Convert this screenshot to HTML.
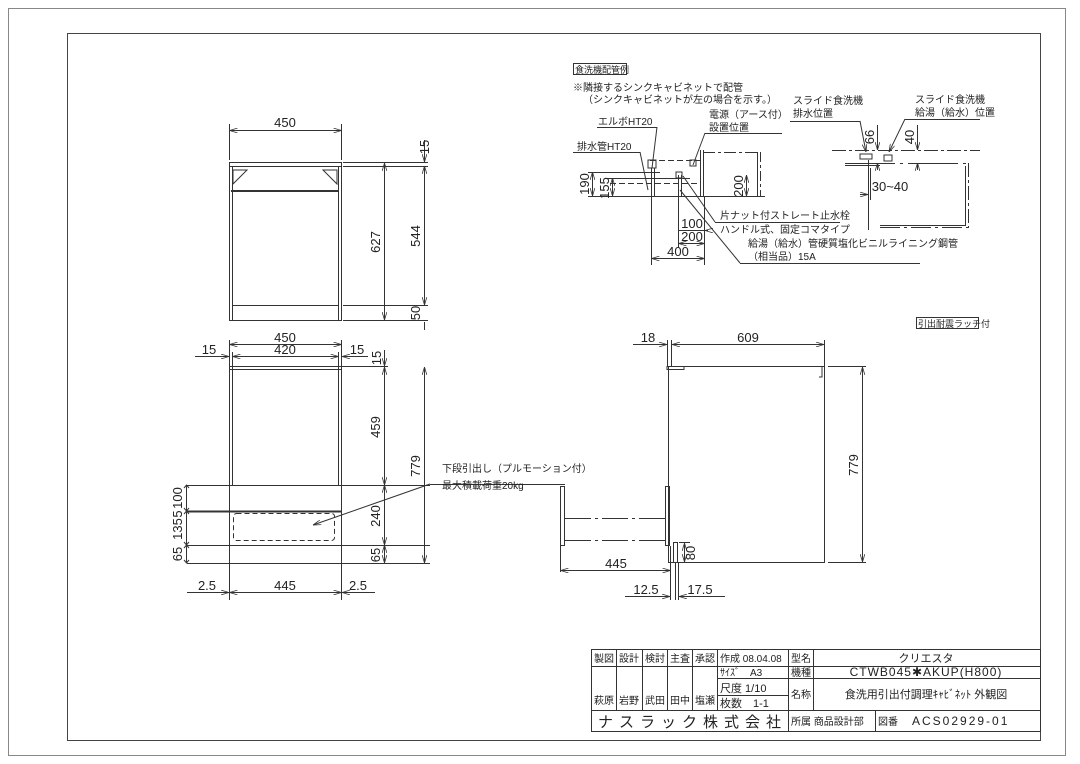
<!DOCTYPE html>
<html><head><meta charset="utf-8"><style>
html,body{margin:0;padding:0;background:#fff}
svg{display:block}
text{font-family:"Liberation Sans","Noto Sans CJK JP",sans-serif;fill:#222}
.d{font-size:13px}
.s{font-size:10px}
</style></head><body>
<svg width="1080" height="764" viewBox="0 0 1080 764" xmlns="http://www.w3.org/2000/svg">
<defs>
<marker id="a" viewBox="0 0 10 6" refX="10" refY="3" markerWidth="8" markerHeight="5" orient="auto-start-reverse" markerUnits="userSpaceOnUse"><path d="M0,0L10,3L0,6" fill="none" stroke="#333" stroke-width="1"/></marker>
</defs>
<g fill="none" stroke="#333" stroke-width="1">
<rect x="8.5" y="8.5" width="1057" height="747" stroke="#888"/>
<rect x="67.5" y="33.5" width="973" height="707" stroke="#444"/>

<!-- TOP VIEW -->
<rect x="229.5" y="162.5" width="112" height="158"/>
<line x1="229" y1="166.5" x2="341" y2="166.5"/>
<line x1="232.5" y1="166" x2="232.5" y2="320"/>
<line x1="338.5" y1="166" x2="338.5" y2="320"/>
<line x1="231" y1="191" x2="339" y2="191" stroke-width="2"/>
<line x1="232" y1="305.5" x2="338" y2="305.5"/>
<path d="M233,170 L247,170 L233,184 Z M337,170 L323,170 L337,184 Z"/>
<line x1="229.5" y1="160" x2="229.5" y2="124"/><line x1="341.5" y1="160" x2="341.5" y2="124"/>
<line x1="229.5" y1="130.5" x2="341.5" y2="130.5" marker-start="url(#a)" marker-end="url(#a)"/>
<line x1="343" y1="162.5" x2="428" y2="162.5"/><line x1="343" y1="166.5" x2="428" y2="166.5"/>
<line x1="343" y1="305.5" x2="428" y2="305.5"/><line x1="343" y1="320.5" x2="428" y2="320.5"/>
<line x1="384.5" y1="163" x2="384.5" y2="320" marker-start="url(#a)" marker-end="url(#a)"/>
<line x1="424.5" y1="166" x2="424.5" y2="305" marker-start="url(#a)" marker-end="url(#a)"/>
<line x1="424.5" y1="140" x2="424.5" y2="162" marker-end="url(#a)"/>
<line x1="424.5" y1="322" x2="424.5" y2="330"/>

<!-- FRONT VIEW -->
<line x1="229.5" y1="340" x2="229.5" y2="600"/><line x1="341.5" y1="340" x2="341.5" y2="600"/>
<line x1="232.5" y1="352" x2="232.5" y2="485"/><line x1="338.5" y1="352" x2="338.5" y2="485"/>
<line x1="229.5" y1="344.5" x2="341.5" y2="344.5" marker-start="url(#a)" marker-end="url(#a)"/>
<line x1="232.5" y1="356.5" x2="338.5" y2="356.5" marker-start="url(#a)" marker-end="url(#a)"/>
<line x1="195" y1="356.5" x2="229" y2="356.5" marker-end="url(#a)"/>
<line x1="342" y1="356.5" x2="368" y2="356.5" marker-start="url(#a)"/>
<line x1="229" y1="366.5" x2="388" y2="366.5"/>
<line x1="229" y1="369.5" x2="341" y2="369.5"/>
<line x1="187" y1="485.5" x2="430" y2="485.5"/>
<line x1="187" y1="511.5" x2="341" y2="511.5" stroke-width="2"/>
<line x1="187" y1="545.5" x2="430" y2="545.5"/>
<line x1="187" y1="563.5" x2="430" y2="563.5"/>
<rect x="233.5" y="513.5" width="101" height="27" rx="3" stroke-dasharray="5,3"/>
<line x1="384.5" y1="367" x2="384.5" y2="485" marker-start="url(#a)" marker-end="url(#a)"/>
<line x1="384.5" y1="485" x2="384.5" y2="545" marker-start="url(#a)" marker-end="url(#a)"/>
<line x1="384.5" y1="545" x2="384.5" y2="563" marker-start="url(#a)" marker-end="url(#a)"/>
<line x1="424.5" y1="367" x2="424.5" y2="563" marker-start="url(#a)" marker-end="url(#a)"/>
<line x1="384.5" y1="350" x2="384.5" y2="366" marker-end="url(#a)"/>
<line x1="186.5" y1="485" x2="186.5" y2="563" />
<path d="M184,488 L186.5,485 L189,488 M184,508 L186.5,511 L189,508 M184,514 L186.5,511 L189,514 M184,542 L186.5,545 L189,542 M184,548 L186.5,545 L189,548 M184,560 L186.5,563 L189,560"/>
<line x1="187" y1="592.5" x2="229" y2="592.5" marker-end="url(#a)"/>
<line x1="229.5" y1="592.5" x2="341.5" y2="592.5" marker-start="url(#a)" marker-end="url(#a)"/>
<line x1="342" y1="592.5" x2="375" y2="592.5" marker-start="url(#a)"/>
<line x1="313" y1="525" x2="430" y2="484" marker-start="url(#a)"/>
<line x1="430" y1="484.5" x2="565" y2="484.5"/>

<!-- SIDE VIEW -->
<rect x="668.5" y="366.5" width="156" height="196"/>
<line x1="671.5" y1="340" x2="671.5" y2="366"/><line x1="667.5" y1="340" x2="667.5" y2="366"/>
<line x1="824.5" y1="340" x2="824.5" y2="366"/>
<line x1="672" y1="344.5" x2="824" y2="344.5" marker-start="url(#a)" marker-end="url(#a)"/>
<line x1="633" y1="344.5" x2="667" y2="344.5" marker-end="url(#a)"/>
<path d="M667,366.5 h17 v3 h-17 z M822,367 v10 h-3"/>
<line x1="828" y1="366.5" x2="866" y2="366.5"/><line x1="828" y1="562.5" x2="866" y2="562.5"/>
<line x1="862.5" y1="367" x2="862.5" y2="562" marker-start="url(#a)" marker-end="url(#a)"/>
<rect x="665.5" y="486.5" width="4" height="59"/>
<rect x="560.5" y="486.5" width="4" height="59"/>
<line x1="565" y1="518.5" x2="665" y2="518.5" stroke-dasharray="26,4,3,4"/>
<line x1="565" y1="540.5" x2="665" y2="540.5" stroke-dasharray="26,4,3,4"/>
<rect x="673.5" y="542.5" width="4" height="20"/>
<line x1="679" y1="542.5" x2="690" y2="542.5"/>
<line x1="684.5" y1="543" x2="684.5" y2="562" marker-start="url(#a)" marker-end="url(#a)"/>
<line x1="560.5" y1="546" x2="560.5" y2="572"/><line x1="670.5" y1="546" x2="670.5" y2="600"/><line x1="675.5" y1="563" x2="675.5" y2="600"/><line x1="678.5" y1="563" x2="678.5" y2="600"/>
<line x1="560.5" y1="570.5" x2="670.5" y2="570.5" marker-start="url(#a)" marker-end="url(#a)"/>
<line x1="625" y1="596.5" x2="670" y2="596.5" marker-end="url(#a)"/>
<line x1="679" y1="596.5" x2="725" y2="596.5" marker-start="url(#a)"/>
<rect x="916.5" y="317.5" width="62" height="11"/>

<!-- PIPING DETAIL -->
<rect x="573.5" y="63.5" width="53" height="11"/>
<line x1="597" y1="127.5" x2="657" y2="127.5"/><line x1="657" y1="127" x2="652" y2="168"/>
<line x1="573" y1="152.5" x2="640" y2="152.5"/><line x1="640" y1="152" x2="648" y2="190"/>
<line x1="705" y1="133.5" x2="782" y2="133.5"/><line x1="705" y1="133" x2="693" y2="165"/>
<line x1="650" y1="160.5" x2="700" y2="160.5" stroke-dasharray="6,3"/>
<line x1="588" y1="172.5" x2="660" y2="172.5"/>
<line x1="605" y1="178.5" x2="690" y2="178.5"/>
<line x1="610" y1="183.5" x2="700" y2="183.5" stroke-dasharray="6,3"/>
<line x1="588" y1="196.5" x2="765" y2="196.5"/>
<line x1="700.5" y1="150" x2="700.5" y2="196"/><line x1="703.5" y1="150" x2="703.5" y2="196"/>
<line x1="703" y1="152.5" x2="758" y2="152.5" stroke-dasharray="12,3,3,3"/>
<line x1="757.5" y1="152" x2="757.5" y2="196"/><line x1="760.5" y1="152" x2="760.5" y2="196" stroke-dasharray="10,3,3,3"/>
<line x1="651.5" y1="168" x2="651.5" y2="265"/><line x1="654.5" y1="168" x2="654.5" y2="196"/>
<line x1="678.5" y1="175" x2="678.5" y2="248"/><line x1="681.5" y1="175" x2="681.5" y2="196"/>
<line x1="704.5" y1="196" x2="704.5" y2="265"/>
<path d="M648,160 h8 v8 h-8 z M676,172 h6 v6 h-6 z M690,160 h6 v6 h-6 z"/>
<line x1="592.5" y1="172" x2="592.5" y2="196" marker-start="url(#a)" marker-end="url(#a)"/>
<line x1="612.5" y1="178" x2="612.5" y2="196" marker-start="url(#a)" marker-end="url(#a)"/>
<line x1="746.5" y1="175" x2="746.5" y2="196" marker-start="url(#a)" marker-end="url(#a)"/>
<line x1="678.5" y1="230.5" x2="704.5" y2="230.5"/><line x1="705" y1="230.5" x2="708" y2="230.5" marker-start="url(#a)"/>
<line x1="678.5" y1="243.5" x2="704.5" y2="243.5" marker-start="url(#a)" marker-end="url(#a)"/>
<line x1="651.5" y1="258.5" x2="704.5" y2="258.5" marker-start="url(#a)" marker-end="url(#a)"/>
<line x1="715" y1="222.5" x2="840" y2="222.5"/><line x1="715" y1="222" x2="683" y2="176"/>
<line x1="740" y1="263.5" x2="920" y2="263.5"/><line x1="740" y1="263" x2="680" y2="190"/>
<line x1="790" y1="121.5" x2="860" y2="121.5"/><line x1="860" y1="121" x2="866" y2="152" marker-end="url(#a)"/>
<line x1="905" y1="119.5" x2="980" y2="119.5"/><line x1="905" y1="119" x2="889" y2="152" marker-end="url(#a)"/>
<line x1="832" y1="150.5" x2="980" y2="150.5" stroke-dasharray="14,3,3,3"/>
<line x1="845" y1="163.5" x2="968" y2="163.5" stroke-dasharray="50,5,3,5"/>
<line x1="845" y1="165.5" x2="880" y2="165.5"/>
<line x1="968.5" y1="163" x2="968.5" y2="228" stroke-dasharray="14,3,3,3"/>
<line x1="965.5" y1="166" x2="965.5" y2="226"/>
<line x1="880" y1="227.5" x2="968" y2="227.5" stroke-dasharray="20,4,3,4"/>
<line x1="880" y1="225.5" x2="965" y2="225.5"/>
<line x1="870.5" y1="168" x2="870.5" y2="200"/><line x1="868.5" y1="160" x2="868.5" y2="230"/>
<line x1="877.5" y1="125" x2="877.5" y2="150" marker-end="url(#a)"/>
<line x1="877.5" y1="163" x2="877.5" y2="170" marker-start="url(#a)"/>
<line x1="917.5" y1="125" x2="917.5" y2="150" marker-end="url(#a)"/>
<line x1="917.5" y1="163" x2="917.5" y2="170" marker-start="url(#a)"/>
<line x1="860" y1="194.5" x2="868" y2="194.5" marker-end="url(#a)"/>
<path d="M860,154 h12 v5 h-12 z M884,155 h8 v6 h-8 z"/>

<!-- TITLE BLOCK -->
<rect x="591.5" y="649.5" width="449" height="82"/>
<line x1="591" y1="666.5" x2="717" y2="666.5"/>
<line x1="591" y1="710.5" x2="1040" y2="710.5"/>
<line x1="717" y1="666.5" x2="1040" y2="666.5"/>
<line x1="717" y1="678.5" x2="1040" y2="678.5"/>
<line x1="717" y1="695.5" x2="788" y2="695.5"/>
<path d="M616.5,650v60 M642.5,650v60 M667.5,650v60 M692.5,650v60 M717.5,650v60 M788.5,650v81 M813.5,650v60 M875.5,710v21"/>
</g>

<g class="d" text-anchor="middle">
<text x="285" y="127">450</text>
<text transform="translate(429,147) rotate(-90)" text-anchor="middle">15</text>
<text transform="translate(380,242) rotate(-90)">627</text>
<text transform="translate(420,236) rotate(-90)">544</text>
<text transform="translate(420,313) rotate(-90)">50</text>
<text x="285" y="342">450</text>
<text x="285" y="354">420</text>
<text x="209" y="354">15</text>
<text x="357" y="354">15</text>
<text transform="translate(381,358) rotate(-90)">15</text>
<text transform="translate(380,427) rotate(-90)">459</text>
<text transform="translate(380,516) rotate(-90)">240</text>
<text transform="translate(380,555) rotate(-90)">65</text>
<text transform="translate(420,466) rotate(-90)">779</text>
<text transform="translate(182,498) rotate(-90)">100</text>
<text transform="translate(182,514) rotate(-90)">5</text>
<text transform="translate(182,529) rotate(-90)">135</text>
<text transform="translate(182,554) rotate(-90)">65</text>
<text x="207" y="590">2.5</text>
<text x="285" y="590">445</text>
<text x="358" y="590">2.5</text>
<text x="648" y="342">18</text>
<text x="748" y="342">609</text>
<text transform="translate(858,465) rotate(-90)">779</text>
<text transform="translate(695,553) rotate(-90)">80</text>
<text x="616" y="568">445</text>
<text x="646" y="594">12.5</text>
<text x="700" y="594">17.5</text>
<text transform="translate(589,184) rotate(-90)">190</text>
<text transform="translate(609,188) rotate(-90)">155</text>
<text transform="translate(743,186) rotate(-90)">200</text>
<text x="692" y="228">100</text>
<text x="692" y="241">200</text>
<text x="678" y="256">400</text>
<text transform="translate(874,137) rotate(-90)">66</text>
<text transform="translate(914,137) rotate(-90)">40</text>
<text x="890" y="191">30~40</text>
</g>

<g class="s">
<text x="442" y="472">下段引出し（プルモーション付）</text>
<text x="442" y="489">最大積載荷重20kg</text>
<text x="918" y="327" font-size="9">引出耐震ラッチ付</text>
<text x="575" y="73" font-size="9">食洗機配管例</text>
<text x="573" y="91">※隣接するシンクキャビネットで配管</text>
<text x="583" y="103">（シンクキャビネットが左の場合を示す。）</text>
<text x="598" y="125">エルボHT20</text>
<text x="709" y="118">電源（アース付）</text>
<text x="709" y="131">設置位置</text>
<text x="577" y="150">排水管HT20</text>
<text x="720" y="219">片ナット付ストレート止水栓</text>
<text x="720" y="233">ハンドル式、固定コマタイプ</text>
<text x="748" y="247">給湯（給水）管硬質塩化ビニルライニング鋼管</text>
<text x="748" y="260">（相当品）15A</text>
<text x="793" y="104">スライド食洗機</text>
<text x="793" y="117">排水位置</text>
<text x="915" y="103">スライド食洗機</text>
<text x="915" y="116">給湯（給水）位置</text>
<text x="594" y="662">製図</text><text x="619" y="662">設計</text><text x="645" y="662">検討</text><text x="670" y="662">主査</text><text x="695" y="662">承認</text>
<text x="720" y="662">作成 08.04.08</text>
<text x="791" y="662">型名</text>
<text x="926" y="662" text-anchor="middle" font-size="11">クリエスタ</text>
<text x="720" y="676">ｻｲｽﾞ　A3</text>
<text x="791" y="676">機種</text>
<text x="926" y="676" text-anchor="middle" font-size="12" letter-spacing="1">CTWB045✱AKUP(H800)</text>
<text x="720" y="692" font-size="11">尺度 1/10</text>
<text x="720" y="707" font-size="11">枚数　1-1</text>
<text x="791" y="698">名称</text>
<text x="926" y="698" text-anchor="middle" font-size="11">食洗用引出付調理ｷｬﾋﾞﾈｯﾄ 外観図</text>
<text x="594" y="704">萩原</text><text x="619" y="704">岩野</text><text x="645" y="704">武田</text><text x="670" y="704">田中</text><text x="695" y="704">塩瀬</text>
<text x="598" y="727" font-size="15" letter-spacing="6">ナスラック株式会社</text>
<text x="791" y="725">所属 商品設計部</text>
<text x="878" y="725">図番</text>
<text x="912" y="725" font-size="12" letter-spacing="2">ACS02929-01</text>
</g>
</svg>
</body></html>
